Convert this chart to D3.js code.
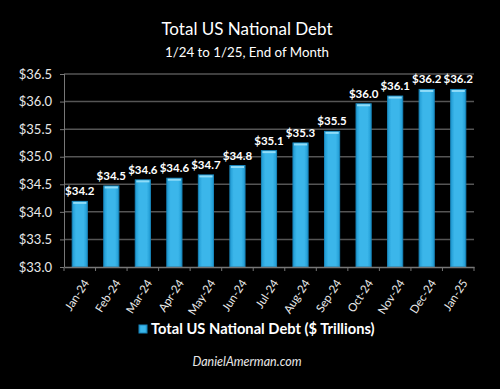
<!DOCTYPE html>
<html>
<head>
<meta charset="utf-8">
<script src="https://cdn.jsdelivr.net/npm/d3@7"></script>
<style>
    body { margin: 0; background: #000; }
    svg { display: block; background: #000; font-family: Lato, "Open Sans", sans-serif; }
</style>
</head>
<body>
<svg width="500" height="389"></svg>
<script>
var months = ["Jan-24", "Feb-24", "Mar-24", "Apr-24", "May-24", "Jun-24", "Jul-24",
    "Aug-24", "Sep-24", "Oct-24", "Nov-24", "Dec-24", "Jan-25"];
var debt = [34.19, 34.47, 34.58, 34.61, 34.67, 34.84, 35.11, 35.25, 35.46, 35.96, 36.10, 36.22, 36.22];
var yTicks = [33.0, 33.5, 34.0, 34.5, 35.0, 35.5, 36.0, 36.5];

var svg = d3.select("svg"),
    margin = {top: 74, right: 26, bottom: 122, left: 64},
    width = 500 - margin.left - margin.right,
    height = 389 - margin.top - margin.bottom;

var defs = svg.append("defs");
var grad = defs.append("linearGradient").attr("id", "barGrad")
    .attr("x1", "0").attr("x2", "1").attr("y1", "0").attr("y2", "0");
grad.append("stop").attr("offset", "0").attr("stop-color", "#1f9ad2");
grad.append("stop").attr("offset", "0.25").attr("stop-color", "#3bb6ea");
grad.append("stop").attr("offset", "0.75").attr("stop-color", "#3bb6ea");
grad.append("stop").attr("offset", "1").attr("stop-color", "#1f9ad2");

var x = d3.scaleBand().domain(months).range([0, width]).paddingInner(0.52).paddingOuter(0.26),
    y = d3.scaleLinear().domain([33, 36.5]).range([height, 0]);

var g = svg.append("g")
    .attr("transform", "translate(" + margin.left + "," + margin.top + ")");

// gridlines
g.selectAll(".grid")
    .data(yTicks.slice(1))
    .enter().append("line")
        .attr("x1", 0).attr("x2", width)
        .attr("y1", function(d) { return y(d); })
        .attr("y2", function(d) { return y(d); })
        .attr("stroke", "#555")
        .attr("stroke-width", 1.5);

// y axis
var yAxis = g.append("g")
    .call(d3.axisLeft(y).tickValues(yTicks).tickSize(4).tickPadding(8)
        .tickFormat(function(d) { return "$" + d3.format(".1f")(d); }));
yAxis.select(".domain").attr("stroke", "#777").attr("d", "M0.5," + height + "V0");
yAxis.selectAll(".tick line").attr("stroke", "#777");
yAxis.selectAll("text").attr("fill", "#e8e8e8").style("font-size", "13px").style("font-family", "Lato, sans-serif");

// bars
g.selectAll(".bar")
    .data(debt)
    .enter().append("rect")
        .attr("class", "bar")
        .attr("x", function(d, i) { return x(months[i]); })
        .attr("y", function(d) { return y(d); })
        .attr("width", x.bandwidth())
        .attr("height", function(d) { return height - y(d); })
        .attr("fill", "url(#barGrad)")
        .attr("stroke", "#1a86bb")
        .attr("stroke-width", 1);

g.selectAll(".cap")
    .data(debt)
    .enter().append("rect")
        .attr("x", function(d, i) { return x(months[i]) + 1; })
        .attr("y", function(d) { return y(d) + 0.5; })
        .attr("width", x.bandwidth() - 2)
        .attr("height", 2)
        .attr("fill", "#8fdcf8");

// value labels
g.selectAll(".lbl")
    .data(debt)
    .enter().append("text")
        .attr("x", function(d, i) { return x(months[i]) + x.bandwidth() / 2; })
        .attr("y", function(d) { return y(d) - 6; })
        .attr("text-anchor", "middle")
        .attr("fill", "#fff")
        .style("font-size", "11.5px")
        .style("font-weight", "bold")
        .text(function(d) { return "$" + d3.format(".1f")(d); });

// x axis
var xAxis = g.append("g")
    .attr("transform", "translate(0," + height + ")")
    .call(d3.axisBottom(x).tickSize(0));
xAxis.select(".domain").attr("stroke", "#777").attr("stroke-width", 1.5);
var step = x.step();
xAxis.selectAll(".tick line").remove();
g.selectAll(".xt")
    .data(d3.range(months.length + 1))
    .enter().append("line")
        .attr("x1", function(i) { return i * step; })
        .attr("x2", function(i) { return i * step; })
        .attr("y1", height).attr("y2", height + 4)
        .attr("stroke", "#777");
xAxis.selectAll("text")
    .attr("fill", "#e8e8e8")
    .style("font-size", "11.5px")
    .style("font-family", "Lato, sans-serif")
    .attr("text-anchor", "end")
    .attr("dy", "0.35em")
    .attr("transform", "translate(4,12) rotate(-57)");

// titles
svg.append("text")
    .attr("x", 247).attr("y", 35)
    .attr("text-anchor", "middle")
    .attr("fill", "#fff")
    .style("font-size", "17px")
    .text("Total US National Debt");
svg.append("text")
    .attr("x", 247).attr("y", 57)
    .attr("text-anchor", "middle")
    .attr("fill", "#fff")
    .style("font-size", "13.3px")
    .text("1/24 to 1/25, End of Month");

// legend
svg.append("rect")
    .attr("x", 139).attr("y", 325).attr("width", 8).attr("height", 8)
    .attr("fill", "url(#barGrad)").attr("stroke", "#1a86bb");
svg.append("text")
    .attr("x", 151).attr("y", 334)
    .attr("fill", "#fff")
    .style("font-size", "14.7px")
    .style("font-weight", "bold")
    .text("Total US National Debt ($ Trillions)");

svg.append("text")
    .attr("x", 247).attr("y", 366)
    .attr("text-anchor", "middle")
    .attr("fill", "#e8e8e8")
    .style("font-size", "12.5px")
    .style("font-style", "italic")
    .text("DanielAmerman.com");
</script>
</body>
</html>
